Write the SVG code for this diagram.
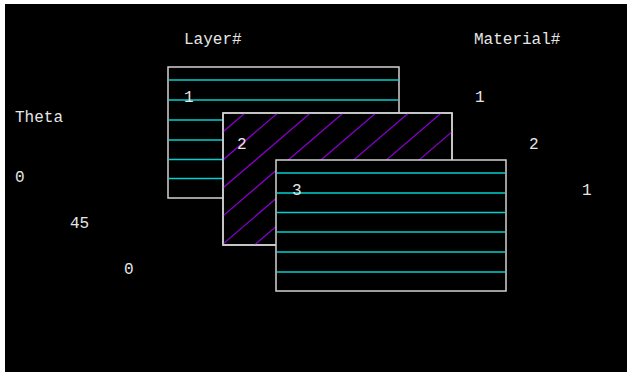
<svg xmlns="http://www.w3.org/2000/svg" width="627" height="372" viewBox="0 0 627 372">
<style>
.t{font-family:"Liberation Mono","Courier New",monospace;font-size:16px;fill:#e6e6e6}
.box{fill:#000;stroke:#d2d2d2;stroke-width:1.5}
.cy{stroke:#00d2d2;stroke-width:1.3}
.hx{stroke:#8a00d0;stroke-width:1.2}
</style>
<defs>
<clipPath id="c2"><rect x="223" y="113" width="229" height="132"/></clipPath>
</defs>
<rect x="0" y="0" width="627" height="372" fill="#fff"/>
<rect x="5" y="4" width="622" height="368" fill="#000"/>
<g id="labels">
<text class="t" x="184" y="44">Layer#</text>
<text class="t" x="474" y="44">Material#</text>
<text class="t" x="15" y="122">Theta</text>
<text class="t" x="15" y="182">0</text>
<text class="t" x="70" y="228">45</text>
<text class="t" x="124" y="274">0</text>
<text class="t" x="475" y="102">1</text>
<text class="t" x="529" y="149">2</text>
<text class="t" x="582" y="195">1</text>
</g>
<g id="layer1">
<rect class="box" x="168" y="67" width="231" height="131"/>
<g class="cy">
<line x1="169" y1="80" x2="398" y2="80"/>
<line x1="169" y1="100" x2="398" y2="100"/>
<line x1="169" y1="120" x2="398" y2="120"/>
<line x1="169" y1="140" x2="398" y2="140"/>
<line x1="169" y1="159.5" x2="398" y2="159.5"/>
<line x1="169" y1="178.5" x2="398" y2="178.5"/>
</g>
<text class="t" x="184" y="102">1</text>
</g>
<g id="layer2">
<rect class="box" x="223" y="113" width="229" height="132"/>
<g class="hx" clip-path="url(#c2)">
<line x1="245" y1="113" x2="91" y2="245"/>
<line x1="277.7" y1="113" x2="123.7" y2="245"/>
<line x1="310.4" y1="113" x2="156.4" y2="245"/>
<line x1="343.1" y1="113" x2="189.1" y2="245"/>
<line x1="375.8" y1="113" x2="221.8" y2="245"/>
<line x1="408.5" y1="113" x2="254.5" y2="245"/>
<line x1="441.2" y1="113" x2="287.2" y2="245"/>
<line x1="473.9" y1="113" x2="319.9" y2="245"/>
<line x1="506.6" y1="113" x2="352.6" y2="245"/>
<line x1="539.3" y1="113" x2="385.3" y2="245"/>
<line x1="572" y1="113" x2="418" y2="245"/>
</g>
<rect x="223" y="113" width="229" height="132" fill="none" stroke="#d2d2d2" stroke-width="1.5"/>
<text class="t" x="237" y="149">2</text>
</g>
<g id="layer3">
<rect class="box" x="276" y="160" width="230" height="131"/>
<g class="cy">
<line x1="277" y1="173" x2="505" y2="173"/>
<line x1="277" y1="193" x2="505" y2="193"/>
<line x1="277" y1="212.5" x2="505" y2="212.5"/>
<line x1="277" y1="232" x2="505" y2="232"/>
<line x1="277" y1="252" x2="505" y2="252"/>
<line x1="277" y1="272" x2="505" y2="272"/>
</g>
<text class="t" x="292" y="195">3</text>
</g>
<g id="connectors"/>
</svg>
